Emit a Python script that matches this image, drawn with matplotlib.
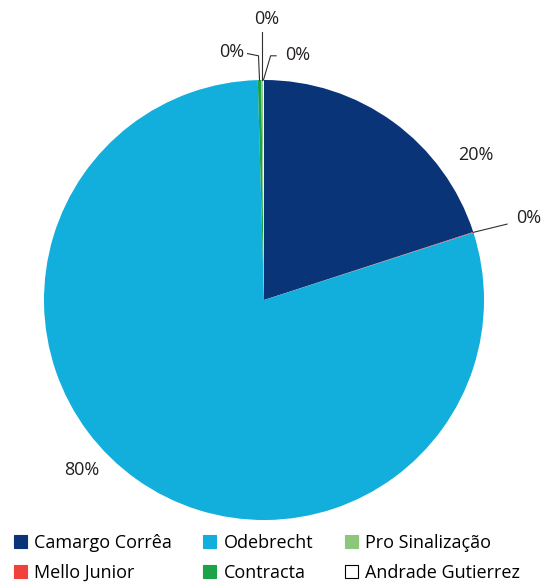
import numpy as np
import matplotlib.pyplot as plt
from matplotlib.patches import Patch

plt.rcParams["font.family"] = ["Open Sans", "DejaVu Sans"]

# slice order, clockwise from 12 o'clock
companies = ["Camargo Corrêa", "Mello Junior", "Odebrecht",
             "Contracta", "Pro Sinalização", "Andrade Gutierrez"]
shares = [20.0, 0.05, 79.5, 0.25, 0.12, 0.08]
labels = ["20%", "0%", "80%", "0%", "0%", "0%"]
colors = ["#0a3478", "#f0413a", "#12aedc", "#1ba34a", "#8dc77b", "#ffffff"]

fig = plt.figure(figsize=(5.44, 5.85), dpi=100)
ax = fig.add_axes([44 / 544, 65 / 585, 440 / 544, 440 / 585])

wedges, _ = ax.pie(shares, colors=colors, startangle=90, counterclock=False,
                   radius=1, wedgeprops=dict(linewidth=0))
ax.set_xlim(-1, 1)
ax.set_ylim(-1, 1)
ax.set_aspect("equal")
ax.axis("off")


def mid(w, r=1.0):
    a = np.deg2rad((w.theta1 + w.theta2) / 2)
    return r * np.cos(a), r * np.sin(a)


txt = dict(fontsize=13, color="#231f20", ha="center", va="center")
lc = dict(color="#303030", lw=0.8, clip_on=False)

# big slices
ax.text(0.964, 0.659, labels[0], **txt)
ax.text(-0.827, -0.773, labels[2], **txt)

# Mello Junior - leader to the right
x0, y0 = mid(wedges[1])
ax.plot([x0, 1.105], [y0, 0.345], **lc)
ax.text(1.205, 0.373, labels[1], **txt)

# Contracta - bent leader to the left
x0, y0 = mid(wedges[3])
ax.plot([x0, -0.025, -0.075], [y0, 1.11, 1.12], **lc)
ax.text(-0.145, 1.127, labels[3], **txt)

# Pro Sinalização - straight up
x0, y0 = mid(wedges[4])
ax.plot([x0, x0], [y0, 1.22], **lc)
ax.text(0.014, 1.277, labels[4], **txt)

# Andrade Gutierrez - bent leader to the right
x0, y0 = mid(wedges[5])
ax.plot([x0, 0.03, 0.055], [y0, 1.11, 1.11], **lc)
ax.text(0.155, 1.115, labels[5], **txt)

handles = [Patch(facecolor=c, edgecolor="black" if c == "#ffffff" else c, linewidth=0.8)
           for c in colors]
fig.legend(handles, companies, ncol=3, loc="lower left",
           bbox_to_anchor=(0.012, -0.007), frameon=False, fontsize=13,
           handlelength=0.72, handleheight=0.72, handletextpad=0.4,
           columnspacing=1.75, labelspacing=0.68, borderaxespad=0.0)

fig.savefig("out.png", dpi=100)
